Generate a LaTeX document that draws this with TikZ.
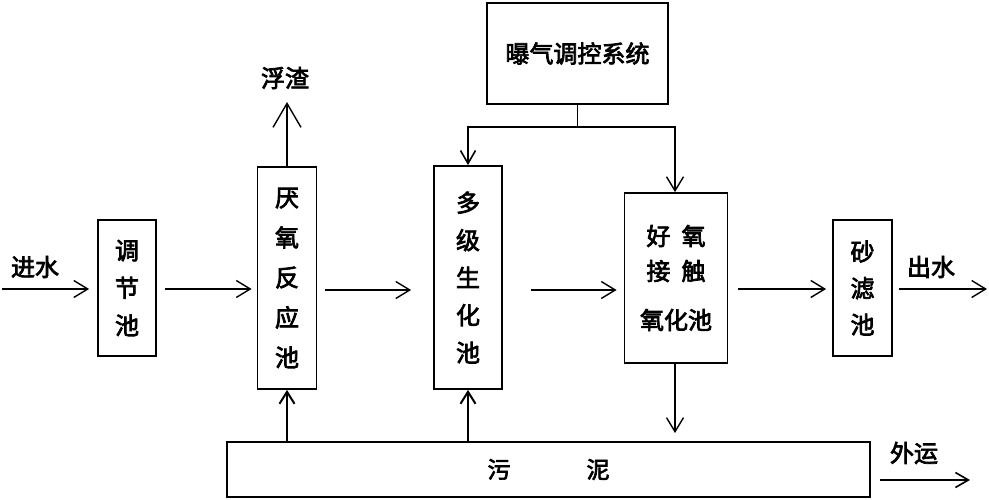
\documentclass[tikz,border=0pt]{standalone}
\usepackage{fontspec}
\setmainfont{Noto Sans CJK SC}[AutoFakeBold=3]
\usetikzlibrary{arrows.meta}
\tikzset{
  box/.style={draw, line width=1.8pt, inner sep=0pt, align=center, font=\bfseries\fontsize{24}{37.5}\selectfont},
  lbl/.style={inner sep=0pt, font=\bfseries\fontsize{24}{24}\selectfont},
  flow/.style={line width=1.4pt, -{Straight Barb[length=14pt,width=17pt,line width=1.4pt]}},
  bigtip/.style={line width=1.4pt, -{Straight Barb[length=24pt,width=28pt,line width=1.4pt]}},
  uptip/.style={line width=2.6pt, -{Straight Barb[length=12pt,width=15pt,line width=2pt]}},
  plain/.style={line width=1.4pt}
}
\begin{document}
\begin{tikzpicture}[x=1pt,y=-1pt]
\useasboundingbox (0,0) rectangle (989,500);
% boxes
\node[box, minimum width=58pt, minimum height=136pt] (tj) at (127,288) {调\\节\\池};
\node[box, minimum width=59pt, minimum height=222pt, font=\bfseries\fontsize{24}{40}\selectfont] (yy) at (287,278) {厌\\氧\\反\\应\\池};
\node[box, minimum width=68pt, minimum height=223pt] (dj) at (468,277.5) {多\\级\\生\\化\\池};
\node[box, minimum width=103pt, minimum height=170pt, font=\bfseries\fontsize{24}{35}\selectfont] (hy) at (676,278) {好\hspace{11pt}氧\\接\hspace{11pt}触\\[14pt]氧化池};
\node[box, minimum width=59pt, minimum height=136pt, font=\bfseries\fontsize{24}{36.5}\selectfont] (sl) at (862.5,288) {砂\\滤\\池};
\node[box, minimum width=181pt, minimum height=101pt] (pq) at (577.5,53.5) {曝气调控系统};
\node[box, minimum width=643pt, minimum height=55pt, font=\bfseries\fontsize{23}{24}\selectfont] (wn) at (548.5,469.5) {污\hspace{76pt}泥};
% labels
\node[lbl] (jin) at (35,267) {进水};
\node[lbl] (chu) at (931,267) {出水};
\node[lbl] (fz) at (285,78) {浮渣};
\node[lbl] (wy) at (914,453) {外运};
% free ends
\coordinate (inS) at (2,289);
\coordinate (outE) at (987,289);
\coordinate (fzE) at (287,102);
\coordinate (hyE) at (675,433);
\coordinate (wyS) at (880,480);
\coordinate (wyE) at (970,480);
\coordinate (jn) at (577.5,127);
% main flow
\draw[flow] (inS) -- ([xshift=-8pt]inS -| tj.west);
\draw[flow] ([xshift=8pt,yshift=-1pt]tj.east) -- ([xshift=-5pt,yshift=-1pt]tj.east -| yy.west);
\draw[flow] ([xshift=8pt,yshift=-12pt]yy.east) -- ([xshift=-22pt,yshift=-12pt]yy.east -| dj.west);
\draw[flow] ([xshift=28pt,yshift=-12.5pt]dj.east) -- ([xshift=-7pt,yshift=-12.5pt]dj.east -| hy.west);
\draw[flow] ([xshift=10pt,yshift=-11pt]hy.east) -- ([xshift=-6pt,yshift=-11pt]hy.east -| sl.west);
\draw[flow] ([xshift=6pt,yshift=-1pt]sl.east) -- (outE);
% scum
\draw[bigtip] (yy.north) -- (fzE);
% aeration
\draw[plain] (pq.south) -- (jn);
\draw[line width=2pt, -{Straight Barb[length=13pt,width=15pt,line width=1.6pt]}] (jn) -| (dj.north);
\draw[flow] (jn) -| ([xshift=-1pt]hy.north);
% sludge
\draw[flow] ([xshift=-1pt]hy.south) -- (hyE);
\draw[uptip] (yy.south |- wn.north) -- (yy.south);
\draw[uptip] (dj.south |- wn.north) -- (dj.south);
\draw[line width=1.8pt, -{Straight Barb[length=13pt,width=15pt,line width=1.6pt]}] (wyS) -- (wyE);
\end{tikzpicture}
\end{document}
